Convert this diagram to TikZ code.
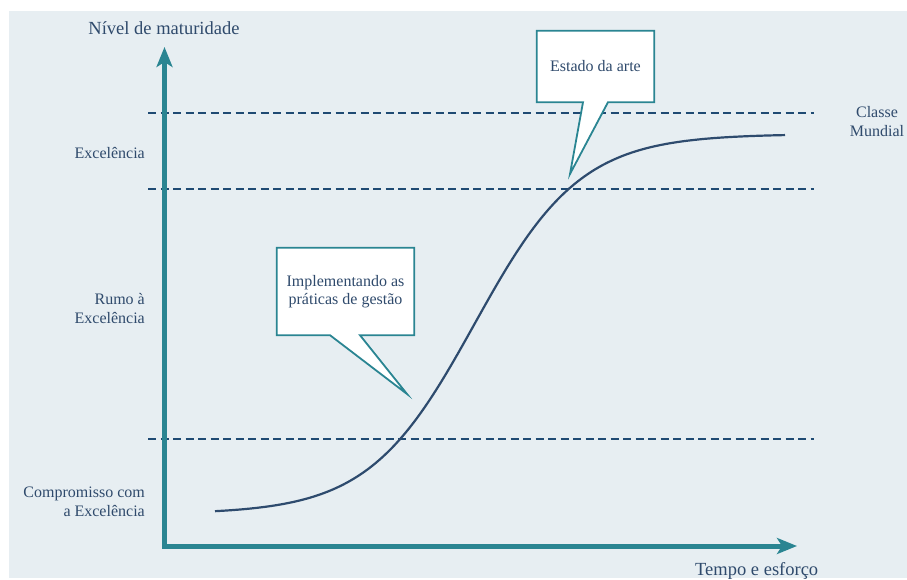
\documentclass[tikz,border=0pt]{standalone}
\usepackage{fontspec}
\setmainfont{Liberation Serif}
\usetikzlibrary{arrows.meta, positioning, calc}
\definecolor{panelGray}{HTML}{E7EEF2}
\definecolor{axisTeal}{HTML}{2A8592}
\definecolor{lineNavy}{HTML}{1F4A73}
\definecolor{textNavy}{HTML}{2F4A6C}
\definecolor{curveNavy}{HTML}{2E4B6E}
\tikzset{
    % Common
    levelLabel/.style={font=\fontsize{16}{19}\selectfont, text=textNavy, align=right, anchor=east, inner sep=0pt},
    axisLabel/.style={font=\fontsize{18.5}{21}\selectfont, text=textNavy, inner sep=0pt},
    axisArrow/.style={{Stealth[length=20pt,width=16pt,inset=5pt]}-{Stealth[length=20pt,width=16pt,inset=5pt]}, line width=5pt, draw=axisTeal, line join=miter},
    levelLine/.style={draw=lineNavy, line width=2pt, dash pattern=on 8pt off 4.5pt},
    growthCurve/.style={draw=curveNavy, line width=2.2pt},
    % Callout Styles
    calloutBox/.style={rectangle, fill=white, draw=none, inner sep=0pt, align=center,
        font=\fontsize{16}{18}\selectfont, text=textNavy},
    calloutLine/.style={draw=axisTeal, line width=1.8pt, line join=miter}
}
\begin{document}
\begin{tikzpicture}[x=1pt, y=-1pt]
    \useasboundingbox (0,0) rectangle (907,580);
    \fill[white] (0,0) rectangle (907,580);
    \fill[panelGray] (9,11) rectangle (907,578);

    % levels
    \draw[levelLine] (148,113) -- (814,113);
    \draw[levelLine] (148,189) -- (814,189);
    \draw[levelLine] (148,439) -- (814,439);

    % s-curve
    \draw[growthCurve] plot[domain=215:785, samples=120, smooth] (\x, {514-380/(1+exp(-(\x-474.5)/53))});

    % axes
    \coordinate (origin) at (164.5,546);
    \coordinate (yTip) at (164.5,47);
    \coordinate (xTip) at (797,546);
    \draw[axisArrow] (yTip) -- (origin) -- (xTip);
    \node[axisLabel] (yTitle) at (164,28) {Nível de maturidade};
    \node[axisLabel, anchor=west] (xTitle) at (695,571) {Tempo e esforço};

    \node[levelLabel] (lvlTop) at (145,153) {Excelência};
    \node[levelLabel] (lvlMid) at (145,309) {Rumo à\\Excelência};
    \node[levelLabel] (lvlLow) at (145,502) {Compromisso com\\a Excelência};
    \node[levelLabel, align=center, anchor=center] (lvlWorld) at (877,122) {Classe\\Mundial};

    % callouts
    \node[calloutBox, minimum width=117pt, minimum height=71pt] (stateArt) at (595.5,66.5) {Estado da arte};
    \coordinate (stateTip) at (570,174);
    \fill[white] ([xshift=-12.5pt]stateArt.south) -- (stateTip) -- ([xshift=12.5pt]stateArt.south) -- cycle;
    \draw[calloutLine] (stateArt.south west) -- (stateArt.north west) -- (stateArt.north east) -- (stateArt.south east)
        -- ([xshift=12.5pt]stateArt.south) -- (stateTip) -- ([xshift=-12.5pt]stateArt.south) -- cycle;

    \node[calloutBox, minimum width=137pt, minimum height=87pt] (implPractice) at (345.5,291.5) {Implementando as\\práticas de gestão};
    \coordinate (implTip) at (407,394);
    \fill[white] ([xshift=-15.5pt]implPractice.south) -- (implTip) -- ([xshift=14.5pt]implPractice.south) -- cycle;
    \draw[calloutLine] (implPractice.south west) -- (implPractice.north west) -- (implPractice.north east) -- (implPractice.south east)
        -- ([xshift=14.5pt]implPractice.south) -- (implTip) -- ([xshift=-15.5pt]implPractice.south) -- cycle;
\end{tikzpicture}
\end{document}
